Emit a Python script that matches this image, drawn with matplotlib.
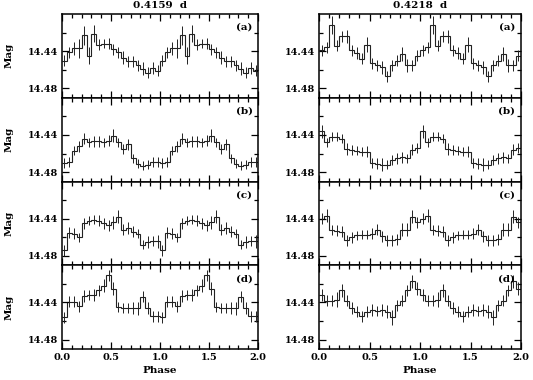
import numpy as np
import matplotlib
matplotlib.use("Agg")
import matplotlib.pyplot as plt
from matplotlib.ticker import MultipleLocator, FixedLocator

# phase bins (one cycle, 20 bins), repeated to cover phase 0-2
bin_width = 0.05
periods = ["0.4159  d", "0.4218  d"]
panel_tags = ["(a)", "(b)", "(c)", "(d)"]

# mean magnitude per phase bin, P = 0.4159 d
mag_a_l = [14.450, 14.441, 14.437, 14.437, 14.423, 14.445, 14.421, 14.433, 14.432, 14.432,
           14.438, 14.441, 14.447, 14.451, 14.451, 14.455, 14.459, 14.463, 14.458, 14.461]
mag_b_l = [14.470, 14.469, 14.457, 14.452, 14.444, 14.448, 14.447, 14.447, 14.448, 14.446,
           14.441, 14.448, 14.455, 14.450, 14.465, 14.471, 14.473, 14.472, 14.469, 14.469]
mag_c_l = [14.474, 14.455, 14.456, 14.460, 14.445, 14.442, 14.441, 14.442, 14.445, 14.447,
           14.444, 14.438, 14.452, 14.450, 14.454, 14.456, 14.468, 14.465, 14.464, 14.464]
mag_d_l = [14.456, 14.439, 14.439, 14.444, 14.433, 14.432, 14.432, 14.427, 14.422, 14.411,
           14.425, 14.445, 14.446, 14.446, 14.446, 14.446, 14.434, 14.446, 14.455, 14.455]

# mean magnitude per phase bin, P = 0.4218 d
mag_a_r = [14.439, 14.436, 14.412, 14.434, 14.424, 14.424, 14.439, 14.442, 14.448, 14.433,
           14.453, 14.455, 14.457, 14.467, 14.455, 14.450, 14.443, 14.455, 14.455, 14.445]
mag_b_r = [14.436, 14.448, 14.442, 14.442, 14.444, 14.455, 14.456, 14.457, 14.458, 14.458,
           14.470, 14.471, 14.472, 14.472, 14.467, 14.465, 14.464, 14.465, 14.456, 14.454]
mag_c_r = [14.440, 14.437, 14.452, 14.453, 14.454, 14.463, 14.460, 14.458, 14.457, 14.457,
           14.456, 14.452, 14.459, 14.463, 14.463, 14.462, 14.452, 14.452, 14.438, 14.444]
mag_d_r = [14.432, 14.438, 14.438, 14.437, 14.427, 14.438, 14.446, 14.450, 14.455, 14.450,
           14.448, 14.449, 14.448, 14.450, 14.456, 14.443, 14.438, 14.427, 14.417, 14.425]

# error bar half-lengths (mag)
err_a_l = [0.006, 0.006, 0.007, 0.010, 0.010, 0.009, 0.009, 0.006, 0.005, 0.006,
           0.006, 0.006, 0.007, 0.006, 0.006, 0.006, 0.007, 0.006, 0.006, 0.006]
err_b_l = [0.005, 0.005, 0.005, 0.006, 0.006, 0.005, 0.006, 0.006, 0.005, 0.006,
           0.007, 0.005, 0.005, 0.006, 0.005, 0.005, 0.005, 0.005, 0.005, 0.005]
err_c_l = [0.006, 0.006, 0.006, 0.005, 0.006, 0.005, 0.005, 0.006, 0.006, 0.006,
           0.007, 0.007, 0.006, 0.006, 0.006, 0.005, 0.005, 0.006, 0.005, 0.007]
err_d_l = [0.006, 0.006, 0.006, 0.006, 0.006, 0.005, 0.006, 0.006, 0.007, 0.006,
           0.007, 0.005, 0.005, 0.005, 0.006, 0.007, 0.006, 0.006, 0.006, 0.006]
err_a_r = [0.006, 0.006, 0.010, 0.006, 0.006, 0.007, 0.006, 0.006, 0.006, 0.008,
           0.006, 0.006, 0.007, 0.006, 0.006, 0.006, 0.007, 0.007, 0.006, 0.006]
err_b_r = [0.007, 0.005, 0.005, 0.005, 0.005, 0.006, 0.005, 0.005, 0.005, 0.006,
           0.005, 0.006, 0.007, 0.005, 0.005, 0.006, 0.006, 0.005, 0.006, 0.005]
err_c_r = [0.006, 0.007, 0.005, 0.006, 0.006, 0.006, 0.006, 0.005, 0.005, 0.005,
           0.006, 0.006, 0.006, 0.006, 0.006, 0.006, 0.007, 0.007, 0.007, 0.006]
err_d_r = [0.006, 0.006, 0.006, 0.008, 0.007, 0.006, 0.006, 0.006, 0.006, 0.006,
           0.006, 0.005, 0.006, 0.007, 0.008, 0.006, 0.006, 0.006, 0.007, 0.007]

columns = [
    [(mag_a_l, err_a_l), (mag_b_l, err_b_l), (mag_c_l, err_c_l), (mag_d_l, err_d_l)],
    [(mag_a_r, err_a_r), (mag_b_r, err_b_r), (mag_c_r, err_c_r), (mag_d_r, err_d_r)],
]

plt.rcParams['font.family'] = ['DejaVu Serif']
plt.rcParams['font.weight'] = 'bold'

fig = plt.figure(figsize=(5.33, 3.80), dpi=100)

col_left = [62 / 533, 319 / 533]
col_width = [196 / 533, 202 / 533]
top_px, bot_px = 14, 349
row_h = (bot_px - top_px) / 4

edges = np.arange(0, 2 + bin_width / 2, bin_width)
centers = edges[:-1] + bin_width / 2

for c in range(2):
    for r in range(4):
        y0 = 1 - (top_px + (r + 1) * row_h) / 380
        ax = fig.add_axes([col_left[c], y0, col_width[c], row_h / 380])
        mag, err = columns[c][r]
        mag2 = np.tile(mag, 2)
        err2 = np.tile(err, 2)
        ax.stairs(mag2, edges, baseline=None, color='#222222', lw=0.8)
        ax.errorbar(centers, mag2, yerr=err2, fmt='none', ecolor='#222222',
                    elinewidth=0.7, capsize=0)
        ax.set_xlim(0, 2)
        ax.set_ylim(14.49, 14.40)
        ax.yaxis.set_major_locator(FixedLocator([14.44, 14.48]))
        ax.yaxis.set_minor_locator(FixedLocator([14.42, 14.46]))
        ax.xaxis.set_major_locator(MultipleLocator(0.5))
        ax.xaxis.set_minor_locator(MultipleLocator(0.1))
        ax.yaxis.set_major_formatter(matplotlib.ticker.FormatStrFormatter('%.2f'))
        ax.xaxis.set_major_formatter(matplotlib.ticker.FormatStrFormatter('%.1f'))
        ax.tick_params(which='both', direction='in', top=True, right=True,
                       labelsize=7, width=0.9, pad=3)
        ax.tick_params(which='major', length=5)
        ax.tick_params(which='minor', length=3)
        for s in ax.spines.values():
            s.set_linewidth(1.1)
        ax.text(0.93, 0.84, panel_tags[r], transform=ax.transAxes,
                ha='center', va='center', fontsize=7.5, fontweight='bold')
        if r < 3:
            ax.tick_params(labelbottom=False)
        else:
            ax.set_xlabel('Phase', fontsize=7.5, fontweight='bold', labelpad=3)
        if r == 0:
            ax.set_title(periods[c], fontsize=7.5, fontweight='bold', pad=4)
        if c == 0:
            ax.set_ylabel('Mag', fontsize=7.5, fontweight='bold')
            ax.yaxis.set_label_coords(-0.245, 0.5)

fig.savefig('out.png', dpi=100)
